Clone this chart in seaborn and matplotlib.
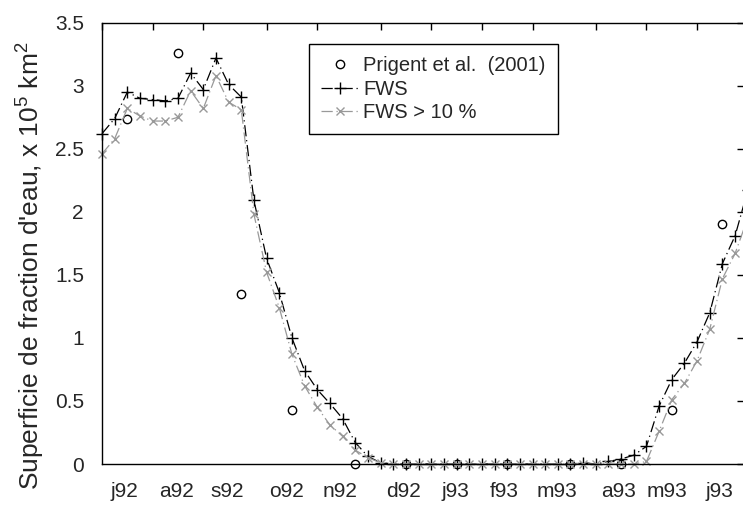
import numpy as np
import pandas as pd
import matplotlib
matplotlib.use('Agg')
import matplotlib.pyplot as plt
import seaborn as sns

# weekly values, week 0 = start of july 1992
weeks = list(range(52))
fws = [2.62, 2.74, 2.95, 2.90, 2.89, 2.88, 2.90, 3.10, 2.97, 3.22,
       3.01, 2.91, 2.09, 1.63, 1.36, 1.00, 0.74, 0.59, 0.48, 0.36,
       0.17, 0.06, 0.01, 0.0, 0.0, 0.0, 0.0, 0.0, 0.0, 0.0,
       0.0, 0.0, 0.0, 0.0, 0.0, 0.0, 0.0, 0.0, 0.01, 0.0,
       0.02, 0.04, 0.07, 0.14, 0.46, 0.67, 0.80, 0.97, 1.20, 1.59,
       1.81, 2.17]
fws10 = [2.46, 2.58, 2.82, 2.76, 2.72, 2.72, 2.75, 2.96, 2.82, 3.08,
         2.87, 2.81, 1.98, 1.52, 1.24, 0.87, 0.62, 0.45, 0.31, 0.22,
         0.11, 0.05, 0.01, 0.0, 0.0, 0.0, 0.0, 0.0, 0.0, 0.0,
         0.0, 0.0, 0.0, 0.0, 0.0, 0.0, 0.0, 0.0, 0.0, 0.0,
         0.0, 0.0, 0.0, 0.02, 0.26, 0.51, 0.64, 0.82, 1.07, 1.47,
         1.67, 1.95]
prig_weeks = [2, 6, 11, 15, 20, 24, 28, 32, 37, 41, 45, 49]
prig_vals = [2.74, 3.26, 1.35, 0.43, 0.0, 0.0, 0.0, 0.0, 0.0, 0.0, 0.43, 1.90]

month_ticks = [0, 4, 8, 13, 17, 22, 26, 30, 34, 39, 43, 47]
month_label_pos = [1.8, 5.9, 9.9, 14.6, 18.8, 23.8, 27.9, 31.8, 35.9, 40.8, 44.6, 48.8]
month_labels = ['j92', 'a92', 's92', 'o92', 'n92', 'd92', 'j93', 'f93', 'm93', 'a93', 'm93', 'j93']
y_ticks = [0, 0.5, 1, 1.5, 2, 2.5, 3, 3.5]
y_labels = ['0', '0.5', '1', '1.5', '2', '2.5', '3', '3.5']

sns.set_style('white')
plt.rcParams['font.family'] = ['Liberation Sans', 'DejaVu Sans']
plt.rcParams['mathtext.fontset'] = 'custom'
plt.rcParams['mathtext.rm'] = 'Liberation Sans'
fs = 15

df = pd.DataFrame({'week': weeks, 'fws': fws, 'fws10': fws10})
dfp = pd.DataFrame({'week': prig_weeks, 'val': prig_vals})

fig = plt.figure(figsize=(7.43, 5.17), dpi=100)
ax = fig.add_axes([0.1373, 0.1025, 0.864, 0.8536])

dash = (0, (9, 3, 1, 3))
sns.lineplot(data=dfp, x='week', y='val', ax=ax, linestyle='', marker='o', markersize=6,
             mfc='none', mec='k', mew=1, color='k', clip_on=False, label='Prigent et al.  (2001)')
sns.lineplot(data=df, x='week', y='fws', ax=ax, color='k', linewidth=0.9, linestyle=dash,
             marker='+', markersize=8, mec='k', mew=1, clip_on=False, label='FWS')
sns.lineplot(data=df, x='week', y='fws10', ax=ax, color='#999999', linewidth=0.9, linestyle=dash,
             marker='x', markersize=5.5, mec='#999999', mew=1, clip_on=False, label='FWS > 10 %')

ax.set_xlim(0, 50.7)
ax.set_ylim(0, 3.5)
ax.set_xticks(month_ticks)
ax.set_xticklabels([''] * len(month_ticks))
ax.set_xticks(month_label_pos, minor=True)
ax.set_xticklabels(month_labels, minor=True)
ax.tick_params(axis='x', which='minor', length=0, pad=13, labelsize=fs)
ax.tick_params(which='major', direction='in', length=5, width=1, top=True, right=True,
               color='k', labelsize=fs)
ax.set_yticks(y_ticks)
ax.set_yticklabels(y_labels)
ax.tick_params(axis='y', pad=13)
ax.set_xlabel('')
ax.set_ylabel("Superficie de fraction d'eau, x 10$^\\mathregular{5}$ km$^\\mathregular{2}$", fontsize=19)
ax.yaxis.set_label_coords(-0.087, 0.45)

for s in ax.spines.values():
    s.set_linewidth(1.0)
    s.set_color('k')

leg = ax.legend(loc='upper left', bbox_to_anchor=(0.3224, 0.9517), frameon=True, fancybox=False,
                edgecolor='k', framealpha=1, borderpad=0.6, labelspacing=0.23, handlelength=1.9,
                handletextpad=0.2, borderaxespad=0, fontsize=14.5, numpoints=1)
leg.get_frame().set_linewidth(1.0)

fig.savefig('out.png', dpi=100)
